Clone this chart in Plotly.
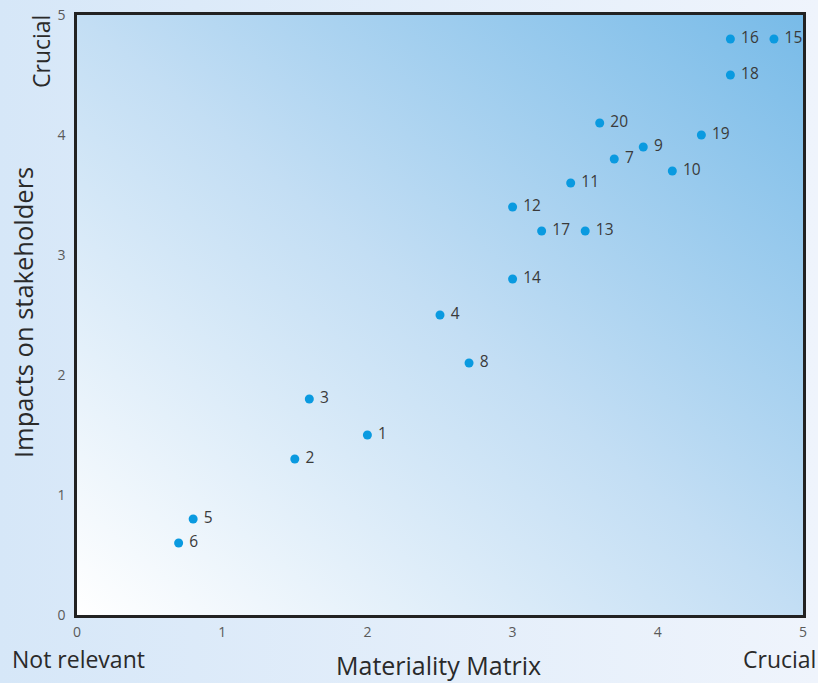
import base64
import plotly.graph_objects as go

ids = ["1", "2", "3", "4", "5", "6", "7", "8", "9", "10",
       "11", "12", "13", "14", "15", "16", "17", "18", "19", "20"]
materiality = [2.0, 1.5, 1.6, 2.5, 0.8, 0.7, 3.7, 2.7, 3.9, 4.1,
               3.4, 3.0, 3.5, 3.0, 4.8, 4.5, 3.2, 4.5, 4.3, 3.6]
impacts = [1.5, 1.3, 1.8, 2.5, 0.8, 0.6, 3.8, 2.1, 3.9, 3.7,
           3.6, 3.4, 3.2, 2.8, 4.8, 4.8, 3.2, 4.5, 4.0, 4.1]
tick_vals = [0, 1, 2, 3, 4, 5]

FONT = "Open Sans"
W, H = 818, 683
L, R, T, B = 77, 15, 15, 68
PW, PH = W - L - R, H - T - B


def svg_uri(svg):
    return "data:image/svg+xml;base64," + base64.b64encode(svg.encode()).decode()


paper_svg = (
    '<svg xmlns="http://www.w3.org/2000/svg" width="100" height="100" viewBox="0 0 100 100" preserveAspectRatio="none">'
    '<defs><linearGradient id="g" x1="0" y1="0" x2="1" y2="0">'
    '<stop offset="0" stop-color="#d6e7f8"/><stop offset="1" stop-color="#eff4fc"/>'
    '</linearGradient></defs><rect width="100" height="100" fill="url(#g)"/></svg>'
)
plot_svg = (
    '<svg xmlns="http://www.w3.org/2000/svg" width="100" height="100" viewBox="0 0 100 100" preserveAspectRatio="none">'
    '<defs><linearGradient id="g" x1="0" y1="1" x2="1" y2="0">'
    '<stop offset="0" stop-color="#ffffff"/><stop offset="0.5" stop-color="#c3def4"/>'
    '<stop offset="1" stop-color="#78bbe8"/>'
    '</linearGradient></defs><rect width="100" height="100" fill="url(#g)"/></svg>'
)

fig = go.Figure()
fig.add_trace(go.Scatter(
    x=materiality, y=impacts, mode="markers+text", text=[" " + s for s in ids],
    textposition="middle right",
    marker=dict(size=9, color="#0a9ae0"),
    textfont=dict(family=FONT, size=15.5, color="#3a3a3a"),
    cliponaxis=False, hoverinfo="skip",
))

fig.update_layout(
    width=W, height=H,
    margin=dict(l=L, r=R, t=T, b=B, autoexpand=False),
    paper_bgcolor="#e4eef9",
    plot_bgcolor="rgba(0,0,0,0)",
    showlegend=False,
    font=dict(family=FONT),
    images=[
        dict(source=svg_uri(paper_svg), xref="paper", yref="paper",
             x=-L / PW, y=1 + T / PH, sizex=W / PW, sizey=H / PH,
             sizing="stretch", layer="below", xanchor="left", yanchor="top"),
        dict(source=svg_uri(plot_svg), xref="paper", yref="paper",
             x=0, y=1, sizex=1, sizey=1,
             sizing="stretch", layer="below", xanchor="left", yanchor="top"),
    ],
    xaxis=dict(range=[0, 5], tickvals=tick_vals, showgrid=False, zeroline=False,
               showline=True, mirror=True, linewidth=2.5, linecolor="#222222",
               ticks="", ticklabelstandoff=2, automargin=False,
               tickfont=dict(family=FONT, size=14, color="#5a5a5a")),
    yaxis=dict(range=[0, 5], tickvals=tick_vals, showgrid=False, zeroline=False,
               showline=True, mirror=True, linewidth=2.5, linecolor="#222222",
               ticks="", ticklabelstandoff=6, automargin=False,
               tickfont=dict(family=FONT, size=14, color="#5a5a5a")),
    annotations=[
        dict(text="Materiality Matrix", xref="paper", yref="paper", x=(438 - L) / PW,
             y=-(665 - 615) / PH,
             xanchor="center", yanchor="middle", showarrow=False,
             font=dict(family=FONT, size=25, color="#2a2a2a")),
        dict(text="Not relevant", xref="paper", yref="paper", x=-(L - 10) / PW,
             y=-(659 - 615) / PH,
             xanchor="left", yanchor="middle", showarrow=False,
             font=dict(family=FONT, size=23, color="#2a2a2a")),
        dict(text="Crucial", xref="paper", yref="paper", x=(818 - L) / PW,
             y=-(659 - 615) / PH,
             xanchor="right", yanchor="middle", showarrow=False,
             font=dict(family=FONT, size=23, color="#2a2a2a")),
        dict(text="Impacts on stakeholders", xref="paper", yref="paper",
             x=-(L - 23) / PW, y=(615 - 313) / PH, textangle=-90,
             xanchor="center", yanchor="middle", showarrow=False,
             font=dict(family=FONT, size=25.5, color="#2a2a2a")),
        dict(text="Crucial", xref="paper", yref="paper",
             x=-(L - 41) / PW, y=(615 - 52) / PH, textangle=-90,
             xanchor="center", yanchor="middle", showarrow=False,
             font=dict(family=FONT, size=23, color="#2a2a2a")),
    ],
)

fig.write_html("out.html", config={"displayModeBar": False},
               post_script="document.body.style.margin='0';")
